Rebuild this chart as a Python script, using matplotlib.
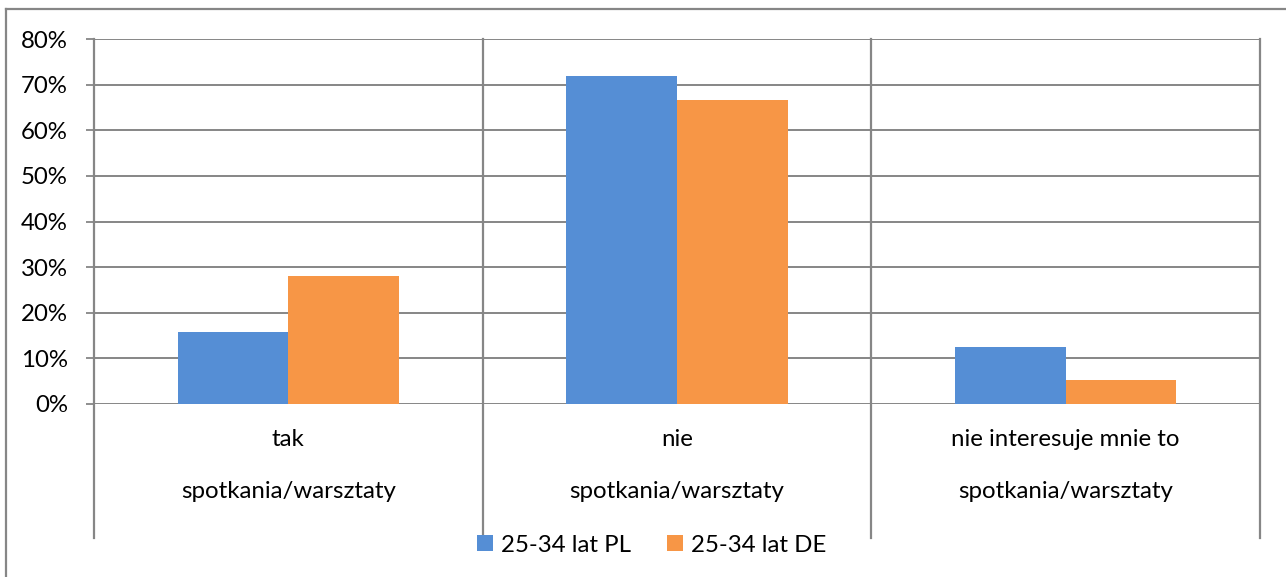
import matplotlib
matplotlib.use("Agg")
import matplotlib.pyplot as plt
from matplotlib.lines import Line2D
from matplotlib.patches import Patch
from matplotlib.ticker import PercentFormatter
import matplotlib.transforms as mtransforms
import numpy as np

categories = ["tak", "nie", "nie interesuje mnie to"]
group_label = "spotkania/warsztaty"
series_names = ["25-34 lat PL", "25-34 lat DE"]
pl_values = [0.158, 0.718, 0.125]
de_values = [0.280, 0.667, 0.052]
yticks = [0, 0.1, 0.2, 0.3, 0.4, 0.5, 0.6, 0.7, 0.8]

colors = ["#558ED5", "#F79646"]
grid_color = "#868686"
FONT = "Lato"
FS = 17.3

plt.rcParams["font.family"] = [FONT, "DejaVu Sans"]

W, H = 1286, 577
fig = plt.figure(figsize=(W / 100, H / 100), dpi=100)
L, R, T, B = 94, 1260, 39, 404
ax = fig.add_axes([L / W, 1 - B / H, (R - L) / W, (B - T) / H])

x = np.arange(len(categories))
bw = 0.285
ax.bar(x - bw / 2, pl_values, width=bw, color=colors[0], zorder=3)
ax.bar(x + bw / 2, de_values, width=bw, color=colors[1], zorder=3)

ax.set_xlim(-0.5, len(categories) - 0.5)
ax.set_ylim(0, 0.8)
ax.set_yticks(yticks)
ax.yaxis.set_major_formatter(PercentFormatter(1.0, decimals=0))
ax.tick_params(axis="y", length=5.8, width=1.3, color=grid_color, pad=13,
               labelsize=FS, labelcolor="black")
ax.set_xticks([])
for s in ax.spines.values():
    s.set_visible(False)
ax.grid(axis="y", color=grid_color, linewidth=1.4, zorder=0)

# vertical category separators, extending below the axis
trans = mtransforms.blended_transform_factory(ax.transData, ax.transAxes)
ybot = (B - 538) / (B - T)
for xs in np.arange(-0.5, len(categories), 1.0):
    ax.add_line(Line2D([xs, xs], [ybot, 1.0], transform=trans, color=grid_color,
                       linewidth=1.6, clip_on=False, zorder=4))

# category labels (two levels)
for xi, cat in zip(x, categories):
    ax.text(xi, (B - 440) / (B - T), cat, transform=trans, ha="center", va="center",
            fontsize=FS, color="black")
    ax.text(xi, (B - 492) / (B - T), group_label, transform=trans, ha="center",
            va="center", fontsize=FS, color="black")

# outer frame
fig.add_artist(Line2D([6 / W, 6 / W], [0, 1 - 9 / H], color=grid_color, linewidth=1.6))
fig.add_artist(Line2D([6 / W, 1], [1 - 9 / H, 1 - 9 / H], color=grid_color, linewidth=1.6))

handles = [Patch(facecolor=c, edgecolor="none") for c in colors]
fig.legend(handles, series_names, loc="center", bbox_to_anchor=(652 / W, 1 - 545 / H),
           ncol=2, frameon=False, fontsize=FS, handlelength=0.65, handleheight=0.65,
           handletextpad=0.35, columnspacing=1.5)

fig.savefig("out.png", dpi=100)
